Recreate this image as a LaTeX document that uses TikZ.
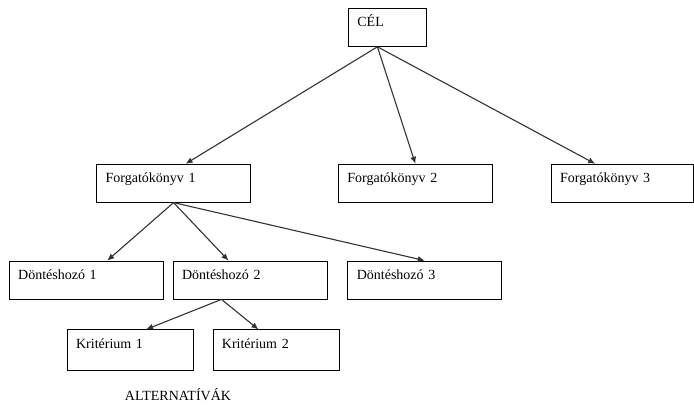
\documentclass[tikz,border=0pt]{standalone}
\usepackage{fontspec}
\setmainfont{Liberation Serif}
\usetikzlibrary{positioning,arrows.meta}
\tikzset{
	x=1pt, y=-1pt,
	link/.style={-{Latex[length=7pt,width=6pt]}, line width=1.1pt, draw=black!80}, % the arrows from one level to the next
	box/.style={draw, line width=0.8pt, rectangle, inner xsep=9pt, inner ysep=0pt, align=left, text height=18.5pt}
}

\begin{document}
\begin{tikzpicture}[font=\fontsize{14}{16}\selectfont]
            \useasboundingbox (0,0) rectangle (694,405);
            \tikzset{wide box/.style = {box, text width=136pt, text depth=19.5pt}}
            \tikzset{low box/.style = {box, text width=108pt, text depth=22.5pt}}
            \node[box, anchor=north west, text width=60pt, text depth=19.5pt] (cel) at (348,8) {CÉL};
            \node[wide box] (f1) [below left=117pt and 97pt of cel.south west] {Forgatókönyv 1};
            \node[wide box] (f2) [right=87pt of f1] {Forgatókönyv 2};
            \node[box, text width=124pt, text depth=19.5pt] (f3) [right=58pt of f2] {Forgatókönyv 3};
            \node[wide box] (d1) [below left=58pt and 10pt of f1.south] {Döntéshozó 1};
            \node[wide box] (d2) [right=9pt of d1] {Döntéshozó 2};
            \node[wide box] (d3) [right=20pt of d2] {Döntéshozó 3};
            \node[low box] (k1) [below left=30pt and 56.5pt of d2.south] {Kritérium 1};
            \node[low box] (k2) [right=19pt of k1] {Kritérium 2};
            \node[anchor=base, inner sep=0pt] (alt) at (178,400) {ALTERNATÍVÁK};
            \draw[link] ([xshift=-10pt]cel.south) -- ([xshift=12pt]f1.north);
            \draw[link] ([xshift=-10pt]cel.south) -- (f2.north);
            \draw[link] ([xshift=-10pt]cel.south) -- ([xshift=-27pt]f3.north);
            \draw[link] (f1.south) -- ([xshift=21pt]d1.north);
            \draw[link] (f1.south) -- ([xshift=-21.5pt]d2.north);
            \draw[link] (f1.south) -- (d3.north);
            \draw[link] ([xshift=-28.5pt]d2.south) -- ([xshift=16pt]k1.north);
            \draw[link] ([xshift=-28.5pt]d2.south) -- ([xshift=-17.5pt]k2.north);
        \end{tikzpicture}
\end{document}
